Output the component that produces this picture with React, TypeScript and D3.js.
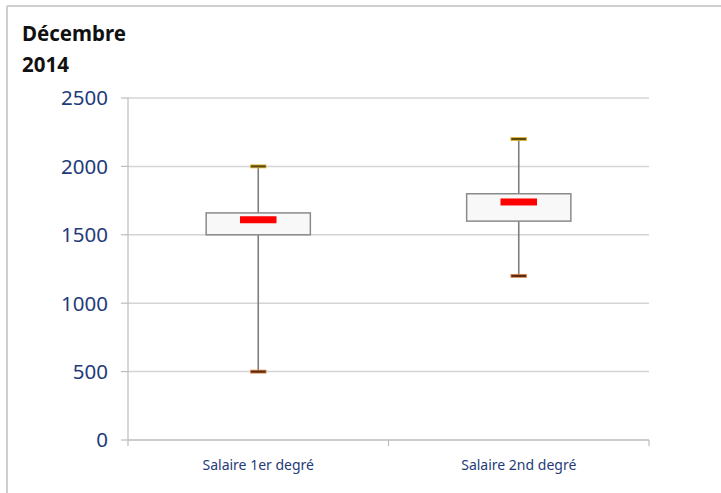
import React from "react";
import * as d3 from "d3";

const categories = ["Salaire 1er degré", "Salaire 2nd degré"];
const minValues = [500, 1200];
const q1Values = [1500, 1600];
const medianValues = [1610, 1740];
const q3Values = [1660, 1800];
const maxValues = [2000, 2200];
const yTicks = [0, 500, 1000, 1500, 2000, 2500];
const titleLines = ["Décembre", "2014"];

const W = 721;
const H = 493;
const plot = { left: 128, right: 649, top: 98, bottom: 440 };

export default function App() {
  const y = d3.scaleLinear().domain([0, 2500]).range([plot.bottom, plot.top]);
  const x = d3
    .scaleBand<string>()
    .domain(categories)
    .range([plot.left, plot.right])
    .paddingInner(0)
    .paddingOuter(0);
  const bw = x.bandwidth();
  const boxW = bw * 0.4;
  const medW = bw * 0.14;
  const capW = bw * 0.06;
  const font = "'Noto Sans', 'Open Sans', sans-serif";

  return (
    <svg
      width={W}
      height={H}
      style={{ position: "absolute", left: 0, top: 0, background: "#fff" }}
    >
      <rect x={0} y={0} width={W} height={H} fill="#fff" />
      <line x1={7} y1={6} x2={W} y2={6} stroke="#cfcfcf" strokeWidth={2} />
      <line x1={7} y1={6} x2={7} y2={H} stroke="#cfcfcf" strokeWidth={2} />
      {titleLines.map((t, i) => (
        <text
          key={t}
          x={22}
          y={41 + i * 31}
          fontFamily={font}
          fontWeight="bold"
          fontSize={20.5}
          fill="#111"
        >
          {t}
        </text>
      ))}
      {yTicks.map((t) => (
        <g key={t}>
          {t > 0 && (
            <line
              x1={plot.left}
              x2={plot.right}
              y1={y(t)}
              y2={y(t)}
              stroke="#d4d4d4"
              strokeWidth={1.5}
            />
          )}
          <line
            x1={plot.left - 7}
            x2={plot.left}
            y1={y(t)}
            y2={y(t)}
            stroke="#bdbdbd"
            strokeWidth={1.2}
          />
          <text
            x={108}
            y={y(t)}
            dy="0.36em"
            textAnchor="end"
            fontFamily={font}
            fontSize={20.5}
            fill="#1f3b7a"
          >
            {t}
          </text>
        </g>
      ))}
      <line
        x1={plot.left}
        x2={plot.left}
        y1={plot.top}
        y2={plot.bottom}
        stroke="#bdbdbd"
        strokeWidth={1.2}
      />
      <line
        x1={plot.left}
        x2={plot.right}
        y1={plot.bottom}
        y2={plot.bottom}
        stroke="#bdbdbd"
        strokeWidth={1.5}
      />
      {[...categories.map((c) => x(c) as number), plot.right].map((px, i) => (
        <line
          key={i}
          x1={px}
          x2={px}
          y1={plot.bottom}
          y2={plot.bottom + 6}
          stroke="#bdbdbd"
          strokeWidth={1.2}
        />
      ))}
      {categories.map((c, i) => {
        const cx = (x(c) as number) + bw / 2;
        return (
          <g key={c}>
            <line
              x1={cx}
              x2={cx}
              y1={y(maxValues[i])}
              y2={y(minValues[i])}
              stroke="#7f7f7f"
              strokeWidth={1.6}
            />
            <rect
              x={cx - boxW / 2}
              y={y(q3Values[i])}
              width={boxW}
              height={y(q1Values[i]) - y(q3Values[i])}
              fill="#f8f8f8"
              stroke="#8a8a8a"
              strokeWidth={1.5}
            />
            <rect
              x={cx - medW / 2}
              y={y(medianValues[i]) - 3.5}
              width={medW}
              height={7}
              fill="#ff0000"
            />
            <rect
              x={cx - capW / 2}
              y={y(maxValues[i]) - 1.5}
              width={capW}
              height={3}
              fill="#5a4a10"
              stroke="#e8b830"
              strokeWidth={0.8}
            />
            <rect
              x={cx - capW / 2}
              y={y(minValues[i]) - 1.5}
              width={capW}
              height={3}
              fill="#5a2a10"
              stroke="#e08a4a"
              strokeWidth={0.8}
            />
            <text
              x={cx}
              y={470}
              textAnchor="middle"
              fontFamily={font}
              fontSize={14}
              fill="#1f3b7a"
            >
              {c}
            </text>
          </g>
        );
      })}
    </svg>
  );
}
